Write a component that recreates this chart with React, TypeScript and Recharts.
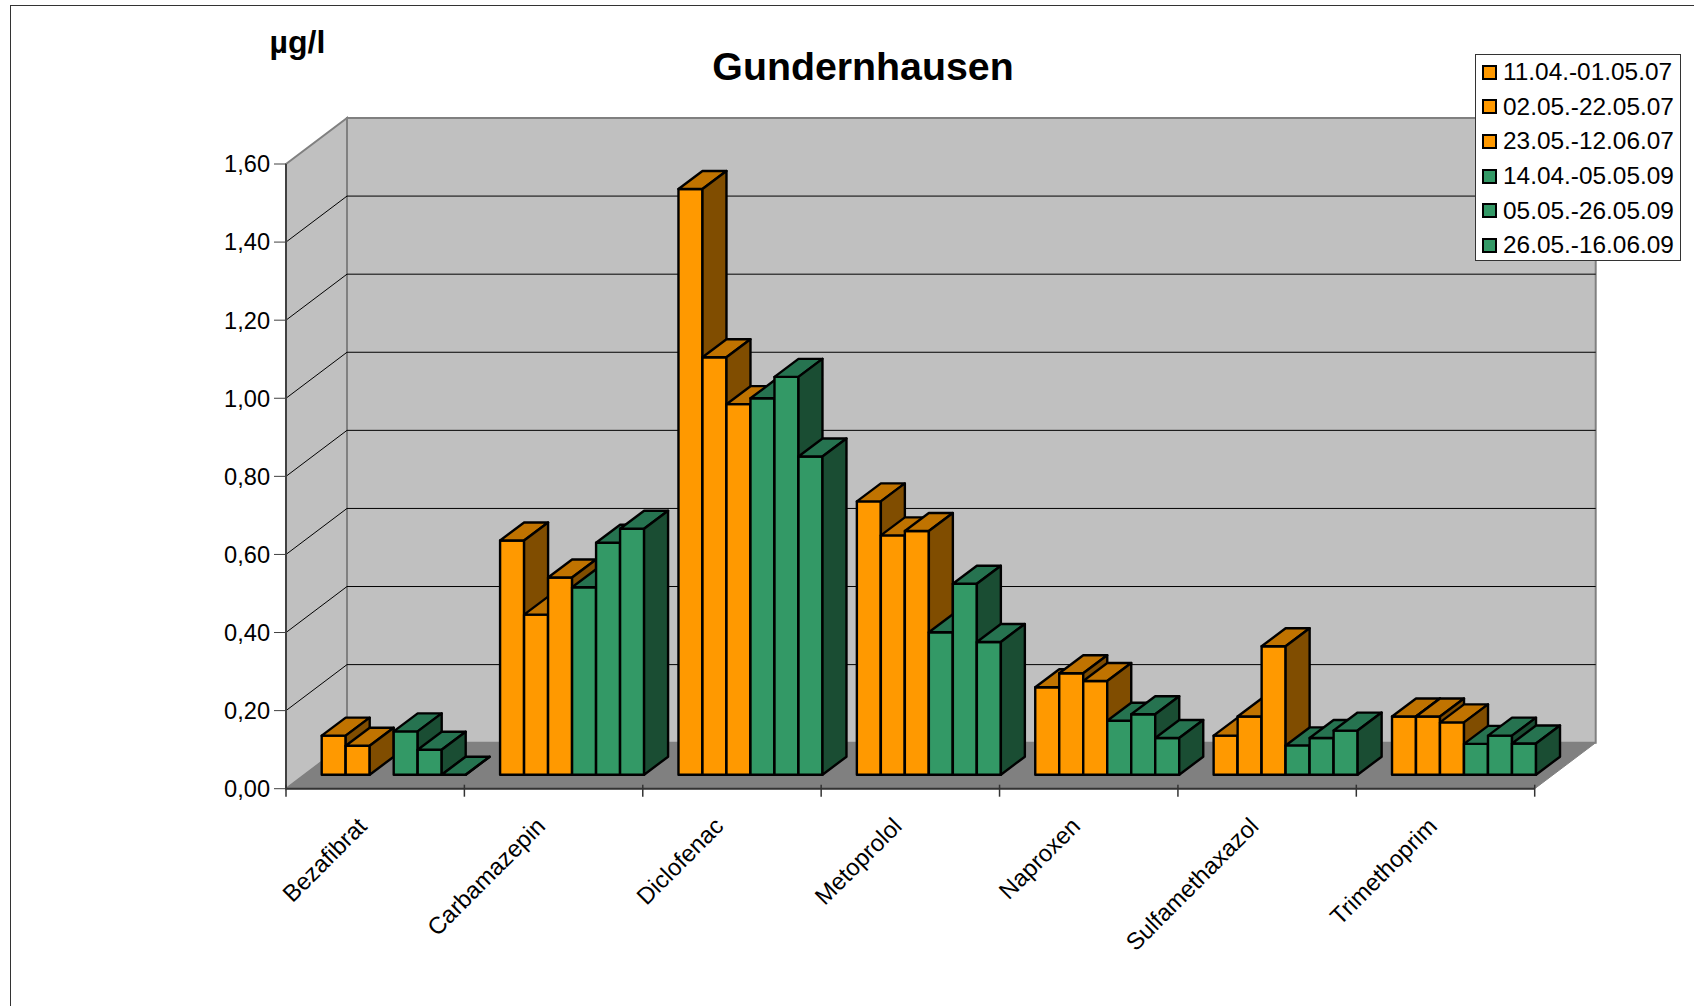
import React from 'react';
import { BarChart, Bar, XAxis, YAxis, CartesianGrid, Legend } from 'recharts';

const categories = ['Bezafibrat', 'Carbamazepin', 'Diclofenac', 'Metoprolol', 'Naproxen', 'Sulfamethaxazol', 'Trimethoprim'];
const seriesNames = ['11.04.-01.05.07', '02.05.-22.05.07', '23.05.-12.06.07', '14.04.-05.05.09', '05.05.-26.05.09', '26.05.-16.06.09'];

const s1 = [0.1, 0.6, 1.5, 0.7, 0.224, 0.1, 0.149];
const s2 = [0.074, 0.41, 1.069, 0.613, 0.26, 0.149, 0.149];
const s3 = [null, 0.505, 0.949, 0.624, 0.24, 0.329, 0.134];
const s4 = [0.111, 0.48, 0.964, 0.365, 0.138, 0.075, 0.079];
const s5 = [0.064, 0.594, 1.019, 0.489, 0.155, 0.094, 0.1];
const s6 = [0, 0.63, 0.815, 0.34, 0.094, 0.113, 0.08];
const seriesValues = [s1, s2, s3, s4, s5, s6];

const yTicks = [0, 0.2, 0.4, 0.6, 0.8, 1, 1.2, 1.4, 1.6];

const rows = categories.map((name, i) => {
  const row: any = { name };
  seriesValues.forEach((vals, k) => { row['s' + k] = vals[i]; });
  return row;
});

const FONT = '"Liberation Sans", Arial, sans-serif';
const ORANGE = { front: '#FF9900', top: '#C07300', side: '#804D00' };
const GREEN = { front: '#339966', top: '#267350', side: '#1A4D33' };
const seriesColors = [ORANGE, ORANGE, ORANGE, GREEN, GREEN, GREEN];

// depth of the box (walls + floor) and of a single bar
const WALL_DX = 61;
const WALL_DY = 46;
const BAR_DX = 24;
const BAR_DY = 18;
const SHIFT_X = 18.5;
const SHIFT_Y = 14;

const pts = (arr: number[][]) => arr.map((p) => p.join(',')).join(' ');

// the walls are painted with the first grid line, the others only add the black rule
const gridLine = (p: any) => {
  const { x, y, width, height, x1, x2, y1, index } = p;
  const top = y;
  const bottom = y + height;
  const right = x + width;
  const isEdge = Math.abs(y1 - top) < 1 || Math.abs(y1 - bottom) < 1;
  return (
    <g key={index}>
      {index === 0 && (
        <g>
          <polygon points={pts([[x, top], [x + WALL_DX, top - WALL_DY], [x + WALL_DX, bottom - WALL_DY], [x, bottom]])} fill="#C0C0C0" stroke="#808080" strokeWidth={2} />
          <polygon points={pts([[x + WALL_DX, top - WALL_DY], [right + WALL_DX, top - WALL_DY], [right + WALL_DX, bottom - WALL_DY], [x + WALL_DX, bottom - WALL_DY]])} fill="#C0C0C0" stroke="#808080" strokeWidth={2} />
          <polygon points={pts([[x, bottom], [x + WALL_DX, bottom - WALL_DY], [right + WALL_DX, bottom - WALL_DY], [right, bottom]])} fill="#808080" stroke="#808080" strokeWidth={1} />
        </g>
      )}
      {!isEdge && (
        <polyline points={pts([[x1, y1], [x1 + WALL_DX, y1 - WALL_DY], [x2 + WALL_DX, y1 - WALL_DY]])} fill="none" stroke="#000" strokeWidth={1} />
      )}
    </g>
  );
};

const Bar3D = (p: any) => {
  const { x, y, width, height, payload, dataKey, colors } = p;
  if (payload[dataKey] == null) return null;
  const l = x + SHIFT_X;
  const r = l + width;
  const t = y - SHIFT_Y;
  const b = t + height;
  const common = { stroke: '#000', strokeWidth: 2.4, strokeLinejoin: 'round' as const };
  return (
    <g>
      <polygon points={pts([[l, t], [r, t], [r, b], [l, b]])} fill={colors.front} {...common} />
      <polygon points={pts([[l, t], [l + BAR_DX, t - BAR_DY], [r + BAR_DX, t - BAR_DY], [r, t]])} fill={colors.top} {...common} />
      <polygon points={pts([[r, t], [r + BAR_DX, t - BAR_DY], [r + BAR_DX, b - BAR_DY], [r, b]])} fill={colors.side} {...common} />
    </g>
  );
};

const CategoryTick = (p: any) => {
  const { x, y, index, payload, band } = p;
  const left = x - band / 2;
  const ax = x - 7;
  const ay = y + 31;
  return (
    <g>
      <line x1={left} y1={y - 12} x2={left} y2={y} stroke="#333" strokeWidth={1.5} />
      {index === categories.length - 1 && (
        <line x1={x + band / 2} y1={y - 12} x2={x + band / 2} y2={y} stroke="#333" strokeWidth={1.5} />
      )}
      <text x={ax} y={ay} textAnchor="end" fontSize={23.8} fontFamily={FONT} fill="#000" transform={`rotate(-45 ${ax} ${ay})`}>
        {payload.value}
      </text>
    </g>
  );
};

const LegendBox = ({ payload }: any) => (
  <div style={{ width: 206, height: 207, boxSizing: 'border-box', background: '#fff', border: '1.5px solid #333', paddingTop: 0.5, fontFamily: FONT }}>
    {(payload || []).map((e: any, i: number) => (
      <div key={i} style={{ height: 34.6, display: 'flex', alignItems: 'center', paddingLeft: 6 }}>
        <span style={{ width: 15, height: 15, boxSizing: 'border-box', background: e.color, border: '2px solid #000', marginRight: 6 }} />
        <span style={{ fontSize: 24.4, color: '#000', lineHeight: '30px' }}>{e.value}</span>
      </div>
    ))}
  </div>
);

const App: React.FC = () => (
  <div style={{ position: 'absolute', left: 0, top: 0, width: 1694, height: 1006, overflow: 'hidden', background: '#fff', fontFamily: FONT }}>
    <div style={{ position: 'absolute', left: 10, top: 5, width: 1684, height: 1001, borderTop: '1.5px solid #333', borderLeft: '1.5px solid #333' }} />
    <div style={{ position: 'absolute', left: 269.5, top: 23, fontSize: 32, fontWeight: 'bold', lineHeight: '38px' }}>µg/l</div>
    <div style={{ position: 'absolute', left: 0, width: 1726, top: 43, textAlign: 'center', fontSize: 39.3, fontWeight: 'bold', lineHeight: '46px' }}>Gundernhausen</div>
    <BarChart
      width={1694}
      height={1006}
      data={rows}
      margin={{ top: 164, right: 159.3, bottom: 117.3, left: 206 }}
      barCategoryGap={17.2}
      barGap={0}
    >
      <CartesianGrid vertical={false} horizontal={gridLine} />
      <XAxis
        dataKey="name"
        height={100}
        interval={0}
        axisLine={{ stroke: '#333', strokeWidth: 2 }}
        tickLine={false}
        tick={(p: any) => <CategoryTick {...p} band={(1694 - 286 - 159.3) / categories.length} />}
      />
      <YAxis
        width={80}
        domain={[0, 1.6]}
        ticks={yTicks}
        interval={0}
        tickSize={12}
        tickMargin={4}
        axisLine={{ stroke: '#404040', strokeWidth: 2 }}
        tickLine={{ stroke: '#404040', strokeWidth: 1 }}
        tick={{ fontSize: 23.6, fontFamily: FONT, fill: '#000' }}
        tickFormatter={(v: number) => v.toFixed(2).replace('.', ',')}
      />
      {seriesNames.map((name, k) => (
        <Bar
          key={name}
          dataKey={'s' + k}
          name={name}
          fill={seriesColors[k].front}
          isAnimationActive={false}
          shape={(p: any) => <Bar3D {...p} dataKey={'s' + k} colors={seriesColors[k]} />}
        />
      ))}
      <Legend
        layout="vertical"
        align="center"
        verticalAlign="middle"
        itemSorter={null}
        content={(props: any) => <LegendBox payload={props.payload} />}
        wrapperStyle={{ position: 'absolute', left: 1475, top: 53.5, width: 206, bottom: 'auto', right: 'auto' }}
      />
    </BarChart>
  </div>
);

export default App;
